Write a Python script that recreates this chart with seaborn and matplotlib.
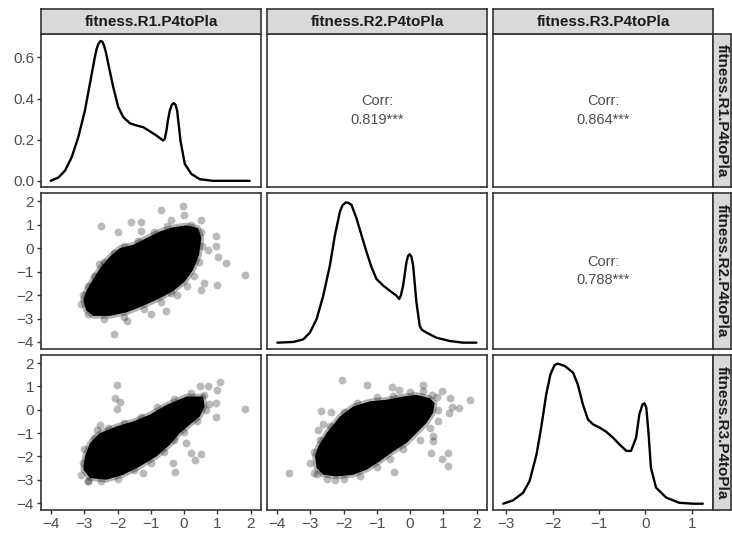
import matplotlib
matplotlib.use("Agg")
import matplotlib.pyplot as plt
import seaborn as sns

sns.set_theme(style="white")
plt.rcParams['font.family'] = ['Liberation Sans', 'DejaVu Sans']

# --- data ---
names = ["fitness.R1.P4toPla", "fitness.R2.P4toPla", "fitness.R3.P4toPla"]
corr_vals = {(0, 1): "0.819***", (0, 2): "0.864***", (1, 2): "0.788***"}

# density on the diagonal
d1_x = [-4.01, -3.78, -3.58, -3.38, -3.18, -2.98, -2.83, -2.68, -2.63, -2.58, -2.51, -2.46,
        -2.41, -2.35, -2.28, -2.13, -1.98, -1.83, -1.63, -1.43, -1.23, -1.03, -0.83, -0.63,
        -0.58, -0.53, -0.48, -0.43, -0.37, -0.31, -0.26, -0.21, -0.16, -0.11, 0.02, 0.22,
        0.47, 0.87, 1.47, 1.97]
d1_y = [0.0, 0.016, 0.049, 0.114, 0.212, 0.342, 0.473, 0.603, 0.64, 0.665, 0.68, 0.677,
        0.66, 0.625, 0.57, 0.456, 0.359, 0.31, 0.28, 0.269, 0.261, 0.241, 0.22, 0.196,
        0.205, 0.245, 0.30, 0.342, 0.37, 0.378, 0.37, 0.342, 0.27, 0.196, 0.082, 0.033,
        0.008, 0.0, 0.0, 0.0]

d2_x = [-3.99, -3.51, -3.21, -3.01, -2.81, -2.61, -2.41, -2.26, -2.11, -2.03, -1.93, -1.85,
        -1.76, -1.61, -1.46, -1.31, -1.16, -1.01, -0.81, -0.61, -0.41, -0.33, -0.28, -0.21,
        -0.11, -0.06, -0.01, 0.04, 0.09, 0.19, 0.29, 0.35, 0.49, 0.79, 1.19, 1.59, 1.99]
d2_y = [0.0, 0.003, 0.014, 0.043, 0.1, 0.2, 0.329, 0.457, 0.557, 0.585, 0.597, 0.595,
        0.586, 0.529, 0.457, 0.386, 0.321, 0.271, 0.243, 0.221, 0.2, 0.186, 0.2, 0.243,
        0.343, 0.37, 0.376, 0.365, 0.329, 0.171, 0.071, 0.055, 0.043, 0.021, 0.007, 0.0, 0.0]

d3_x = [-3.07, -2.86, -2.64, -2.5, -2.35, -2.25, -2.14, -2.05, -1.96, -1.89, -1.74, -1.56,
        -1.46, -1.35, -1.24, -1.13, -0.99, -0.85, -0.7, -0.56, -0.41, -0.31, -0.2, -0.13,
        -0.06, -0.02, 0.02, 0.07, 0.12, 0.23, 0.45, 0.73, 1.02, 1.24]
d3_y = [0.0, 0.014, 0.047, 0.097, 0.211, 0.326, 0.469, 0.554, 0.594, 0.6, 0.59, 0.561,
        0.511, 0.426, 0.361, 0.34, 0.326, 0.309, 0.283, 0.254, 0.226, 0.226, 0.283, 0.383,
        0.426, 0.43, 0.411, 0.297, 0.154, 0.069, 0.026, 0.004, 0.0, 0.0]

# dense cloud outlines (lower panels) and loose points around them
c21_x = [-3.03, -2.95, -2.73, -2.23, -1.73, -1.23, -0.73, -0.33, 0.02, 0.27, 0.45, 0.52,
         0.42, 0.07, -0.33, -0.73, -1.13, -1.53, -1.93, -2.23, -2.53, -2.78, -2.95]
c21_y = [-2.21, -2.64, -2.89, -2.89, -2.74, -2.46, -2.14, -1.83, -1.43, -0.93, -0.29, 0.43,
         0.86, 0.97, 0.89, 0.71, 0.43, 0.14, 0.0, -0.36, -0.86, -1.43, -1.86]
p21_x = [-2.5, -1.98, -1.61, -1.3, -1.31, -0.68, -0.03, -0.01, -0.38, 0.52, 0.95, 0.97,
         0.72, 1.02, 1.25, 1.82, 0.59, 1.0, 0.52, -0.38, -0.53, -1.01, -1.73, -2.1, -2.57,
         -3.03, -2.9, -2.7, -2.4, -2.1, -1.8, -1.4, -0.9, -0.5, 0.2, 0.5, 0.55, 0.45, 0.3,
         0.1, -0.2, -0.7, -1.2, -1.8, -2.4, -2.9, -3.1]
p21_y = [0.93, 0.67, 1.11, 1.11, 0.71, 1.64, 1.81, 1.43, 1.21, 1.21, 0.53, 0.07,
         -0.07, -0.36, -0.64, -1.14, -1.5, -1.57, -1.79, -1.93, -2.69, -2.79, -3.11, -3.66,
         -0.66, -2.0, -1.6, -1.2, -0.6, -0.2, 0.1, 0.3, 0.7, 0.95, 1.0, 0.7, 0.1, -0.6, -1.2,
         -1.6, -2.0, -2.3, -2.6, -2.95, -3.0, -2.8, -2.4]

c31_x = [0.57, 0.07, -0.53, -1.03, -1.53, -2.03, -2.53, -2.83, -2.98, -3.03, -2.83, -2.33,
         -1.83, -1.33, -0.83, -0.43, -0.13, 0.17, 0.47, 0.62]
c31_y = [0.57, 0.57, 0.21, -0.21, -0.5, -0.71, -1.0, -1.43, -2.0, -2.57, -2.93, -3.0,
         -2.79, -2.43, -2.0, -1.5, -1.0, -0.64, -0.29, 0.14]
p31_x = [-2.01, -2.08, -1.93, -2.03, 0.47, 0.72, 1.07, 0.99, 0.95, 0.75, 0.95, 1.82,
         0.22, 0.52, 0.32, -0.28, -1.23, -2.88, 0.07, -0.33, -2.53, -2.63, -3.1, -2.9,
         -2.5, -2.0, -1.5, -1.0, -0.6, -0.3, 0.0, 0.4, 0.65, 0.6, 0.2, -0.3, -0.8, -1.3,
         -1.8, -2.3, -2.7, -3.0, -3.05]
p31_y = [1.07, 0.5, 0.33, 0.03, 1.0, 1.0, 1.19, 0.83, 0.31, 0.26, -0.31, 0.04,
         -1.86, -1.89, -2.14, -2.67, -2.71, -3.07, -1.43, -2.29, -0.64, -0.86, -2.8, -3.05,
         -3.05, -2.95, -2.6, -2.3, -1.8, -1.3, -0.95, -0.5, 0.0, 0.65, 0.7, 0.45, 0.1, -0.3,
         -0.55, -0.8, -1.2, -1.7, -2.3]

c32_x = [-2.76, -2.51, -2.11, -1.71, -1.21, -0.71, -0.21, 0.19, 0.59, 0.74, 0.69, 0.49,
         0.19, -0.11, -0.51, -0.91, -1.31, -1.71, -2.21, -2.61, -2.81, -2.86]
c32_y = [-1.57, -1.0, -0.29, 0.14, 0.36, 0.43, 0.57, 0.64, 0.5, 0.29, -0.14, -0.57,
         -1.0, -1.43, -1.79, -2.21, -2.57, -2.79, -2.86, -2.79, -2.5, -2.0]
p32_x = [-3.63, -2.06, -1.31, -2.68, -2.38, -2.61, -2.78, -0.53, -0.33, 0.39, 0.67, 0.97,
         1.21, 1.25, 1.47, 1.17, 1.81, 0.84, 0.69, 0.69, 0.64, 0.97, 1.14, 1.14, -0.48,
         -2.26, -2.81, -2.9, -2.7, -2.4, -2.0, -1.6, -1.0, -0.5, 0.0, 0.4, 0.8, 0.85, 0.6,
         0.3, -0.2, -0.6, -1.0, -1.5, -2.0, -2.5, -2.9, -3.0]
p32_y = [-2.71, 1.26, 1.07, -0.07, -0.1, -0.6, -0.86, 0.97, 0.83, 1.07, 0.64, 0.79,
         0.5, 0.11, 0.06, -0.14, 0.4, -0.5, -1.11, -1.36, -1.86, -2.1, -1.86, -2.43, -2.67,
         -3.0, -2.74, -1.8, -1.3, -0.7, -0.1, 0.3, 0.55, 0.6, 0.75, 0.8, 0.55, 0.0, -0.8,
         -1.3, -1.7, -2.1, -2.45, -2.85, -2.95, -2.95, -2.7, -2.3]

dens = [(d1_x, d1_y), (d2_x, d2_y), (d3_x, d3_y)]
clouds = {(1, 0): (c21_x, c21_y, p21_x, p21_y),
          (2, 0): (c31_x, c31_y, p31_x, p31_y),
          (2, 1): (c32_x, c32_y, p32_x, p32_y)}

# --- layout (pixels of a 732 x 537 figure) ---
W, H = 732, 537
cols = [(41, 261), (267, 487), (493, 713)]
rows = [(34, 187), (193, 349), (355, 510)]
xlims = [(-4.3, 2.31), (-4.3, 2.31), (-3.29, 1.46)]
ylims_sc = (-4.3, 2.35)
ylims_diag = [(-0.03, 0.714), (-0.027, 0.637), (-0.027, 0.637)]
edge = "#333333"
tick_col = "#4d4d4d"


def box(x0, x1, y0, y1):
    return [x0 / W, 1 - y1 / H, (x1 - x0) / W, (y1 - y0) / H]


fig = plt.figure(figsize=(W / 100, H / 100), dpi=100)

for i in range(3):
    for j in range(3):
        ax = fig.add_axes(box(cols[j][0], cols[j][1], rows[i][0], rows[i][1]))
        ax.set_facecolor("white")
        for s in ax.spines.values():
            s.set_color(edge)
            s.set_linewidth(1.2)
        if i == j:
            sns.lineplot(x=dens[i][0], y=dens[i][1], ax=ax, color="black", lw=1.7,
                         sort=False, estimator=None, solid_joinstyle="round")
            ax.set_ylim(*ylims_diag[i])
        elif i < j:
            off = 9.5 / (rows[i][1] - rows[i][0])
            ax.text(0.5, 0.5 + off, "Corr:", transform=ax.transAxes,
                    ha="center", va="center", fontsize=10.5, color="#4d4d4d")
            ax.text(0.5, 0.5 - off, corr_vals[(i, j)], transform=ax.transAxes,
                    ha="center", va="center", fontsize=10.5, color="#4d4d4d")
            ax.set_ylim(0, 1)
        else:
            cx, cy, px, py = clouds[(i, j)]
            ax.fill(cx, cy, color="black", lw=0, zorder=2)
            ax.plot(cx + cx[:1], cy + cy[:1], color="black", lw=4, alpha=0.3,
                    solid_joinstyle="round", zorder=1)
            sns.scatterplot(x=px, y=py, ax=ax, color="black", alpha=0.27,
                            s=32, linewidth=0, zorder=3)
            ax.set_ylim(*ylims_sc)
        ax.set_xlim(*xlims[j])
        ax.set_xlabel("")
        ax.set_ylabel("")

        # ticks only on the outer edges
        if i == 2:
            ax.set_xticks(range(-4, 3) if j < 2 else range(-3, 2))
            ax.tick_params(axis="x", bottom=True, length=3, width=1, color=edge,
                           labelsize=11, labelcolor=tick_col, pad=2)
        else:
            ax.set_xticks([])
        if j == 0:
            if i == 0:
                ax.set_yticks([0.0, 0.2, 0.4, 0.6])
                ax.set_yticklabels(["0.0", "0.2", "0.4", "0.6"])
            else:
                ax.set_yticks(range(-4, 3))
            ax.tick_params(axis="y", left=True, length=3, width=1, color=edge,
                           labelsize=11, labelcolor=tick_col, pad=2)
        else:
            ax.set_yticks([])

# strips
for j in range(3):
    st = fig.add_axes(box(cols[j][0], cols[j][1], 9, 34))
    st.set_facecolor("#d9d9d9")
    st.set_xticks([])
    st.set_yticks([])
    for s in st.spines.values():
        s.set_color(edge)
        s.set_linewidth(1.2)
    st.text(0.5, 0.5, names[j], ha="center", va="center", fontsize=11,
            fontweight="bold", color="#1a1a1a", transform=st.transAxes)

for i in range(3):
    st = fig.add_axes(box(713, 731, rows[i][0], rows[i][1]))
    st.set_facecolor("#d9d9d9")
    st.set_xticks([])
    st.set_yticks([])
    for s in st.spines.values():
        s.set_color(edge)
        s.set_linewidth(1.2)
    st.text(0.5, 0.5, names[i], ha="center", va="center", fontsize=11, rotation=-90,
            fontweight="bold", color="#1a1a1a", transform=st.transAxes)

fig.savefig("out.png", dpi=100)
